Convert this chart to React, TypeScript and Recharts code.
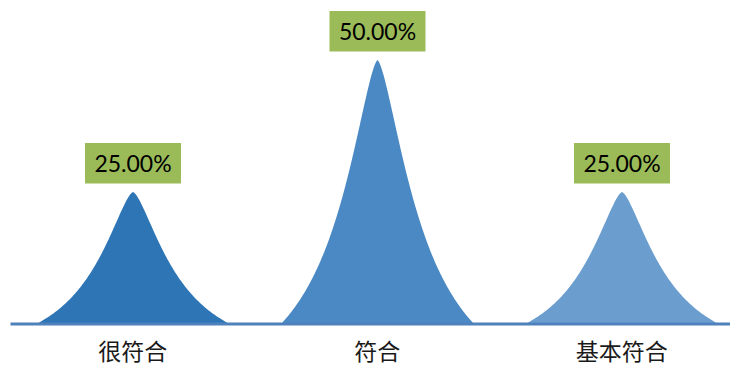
import React from 'react';
import { BarChart, Bar, XAxis, YAxis, Cell, LabelList } from 'recharts';

// share of answers per category, in percent
const categories = ['很符合', '符合', '基本符合'];
const shares = [25, 50, 25];
const peakColors = ['#2E75B6', '#4A89C3', '#6B9ECF'];

const data = categories.map((name, i) => ({ name, value: shares[i] }));

// bell-like "peak" drawn inside the bar's box (truncated lorentz-like profile, pointed tip)
const PeakShape = (props: any) => {
  const { x, y, width, height, fill } = props;
  if (!height || height <= 0) return null;
  const hw = width / 2;
  const cx = x + hw;
  const base = y + height;
  const g = 0.5 * hw;
  const a = 1.5;
  const f = (d: number) => 1 / (1 + Math.pow(d / g, a));
  const c = f(hw);
  const steps = 80;
  const pts: string[] = [];
  for (let i = 0; i <= steps; i++) {
    const d = hw - (hw * i) / steps;
    const h = (f(d) - c) / (1 - c);
    pts.push(`${(cx - d).toFixed(2)},${(base - h * height).toFixed(2)}`);
  }
  for (let i = steps - 1; i >= 0; i--) {
    const d = hw - (hw * i) / steps;
    const h = (f(d) - c) / (1 - c);
    pts.push(`${(cx + d).toFixed(2)},${(base - h * height).toFixed(2)}`);
  }
  return <path d={`M${pts.join(' L')} Z`} fill={fill} />;
};

const PercentTag = (props: any) => {
  const vb = props.viewBox || props;
  const cx = vb.x + vb.width / 2;
  const top = vb.y;
  return (
    <g>
      <rect x={cx - 48} y={top - 49} width={96} height={40.5} fill="#9BBB59" />
      <text
        x={cx}
        y={top - 20}
        textAnchor="middle"
        fontFamily="Lato, 'Open Sans', sans-serif"
        fontSize={23}
        fill="#000"
      >
        {`${Number(props.value).toFixed(2)}%`}
      </text>
    </g>
  );
};

const CategoryTick = ({ x, y, payload }: any) => (
  <text
    x={x}
    y={y + 36}
    textAnchor="middle"
    fontFamily="'Noto Sans CJK SC', sans-serif"
    fontSize={23}
    fill="#1a1a1a"
  >
    {payload.value}
  </text>
);

export default function App() {
  return (
    <div style={{ position: 'absolute', left: 0, top: 0, width: 730, height: 366, overflow: 'hidden', background: '#fff' }}>
      <BarChart width={744} height={366} data={data} margin={{ top: 60, right: 0, bottom: 0, left: 10.5 }}>
        <YAxis hide domain={[0, 50]} />
        <Bar dataKey="value" barSize={193} shape={PeakShape} isAnimationActive={false}>
          {data.map((d, i) => (
            <Cell key={d.name} fill={peakColors[i]} />
          ))}
          <LabelList dataKey="value" content={PercentTag} />
        </Bar>
        <XAxis
          dataKey="name"
          height={42}
          interval={0}
          axisLine={{ stroke: '#4F81BD', strokeWidth: 3 }}
          tickLine={false}
          tickSize={0}
          tickMargin={0}
          tick={CategoryTick}
        />
      </BarChart>
    </div>
  );
}
